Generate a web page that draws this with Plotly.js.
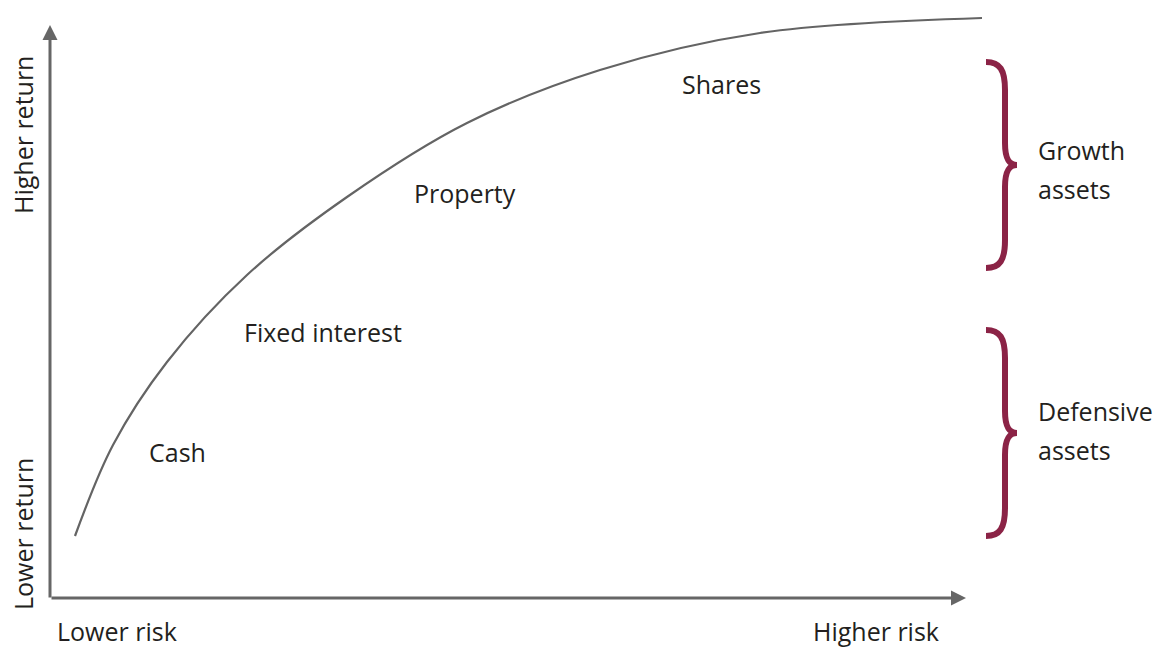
<!DOCTYPE html>
<html>
<head>
<meta charset="utf-8">
<script src="https://cdn.plot.ly/plotly-3.0.1.min.js"></script>
<style>html,body{margin:0;padding:0;background:#fff;}#chart{width:1164px;height:648px;}</style>
</head>
<body>
<div id="chart"></div>
<script>
// Risk/return curve (in the diagram's own units)
const curveRisk   = [75, 113, 167, 247, 347, 467, 600, 760, 982];
const curveReturn = [536, 445, 362, 275, 197, 123, 70, 33, 18];

// Asset class labels and their positions
const assetNames  = ["Cash", "Fixed interest", "Property", "Shares"];
const assetRisk   = [148, 243, 413, 681];
const assetReturn = [452, 332, 193, 84];

// Asset groups (braces)
const groupLine1  = ["Growth", "Defensive"];
const groupLine2  = ["assets", "assets"];
const groupLine1Y = [150, 411];
const groupLine2Y = [189, 450];
const groupCenter = [165, 433];
const groupHalf   = [103, 103];

// Axis labels
const axisLabels = {lowRisk: "Lower risk", highRisk: "Higher risk", lowReturn: "Lower return", highReturn: "Higher return"};

const textColor = "#231f20";
const axisColor = "#666666";
const braceColor = "#8b2346";
const fontFam = "Open Sans, Noto Sans, sans-serif";
const fsz = 25;

const traces = [{
  x: curveRisk, y: curveReturn, type: "scatter", mode: "lines",
  line: {color: "#646464", width: 2.2, shape: "spline", smoothing: 1},
  hoverinfo: "skip", showlegend: false
}];

const annotations = [];
// Axes with arrows
annotations.push({x: 966, y: 598, ax: 50, ay: 598, xref: "x", yref: "y", axref: "x", ayref: "y",
  showarrow: true, arrowhead: 2, arrowsize: 1, arrowwidth: 3, arrowcolor: axisColor, text: "", standoff: 0});
annotations.push({x: 50, y: 25, ax: 50, ay: 599, xref: "x", yref: "y", axref: "x", ayref: "y",
  showarrow: true, arrowhead: 2, arrowsize: 1, arrowwidth: 3, arrowcolor: axisColor, text: "", standoff: 0});

function txt(t, x, y, opts) {
  annotations.push(Object.assign({x: x, y: y, xref: "x", yref: "y", text: t, showarrow: false,
    borderpad: 0, font: {family: fontFam, size: fsz, color: textColor}}, opts || {}));
}
txt(axisLabels.lowRisk, 117, 631, {xanchor: "center", yanchor: "middle"});
txt(axisLabels.highRisk, 876, 631, {xanchor: "center", yanchor: "middle"});
txt(axisLabels.highReturn, 23, 135, {textangle: -90, xanchor: "center", yanchor: "middle"});
txt(axisLabels.lowReturn, 23, 534, {textangle: -90, xanchor: "center", yanchor: "middle"});
assetNames.forEach((n, i) => txt(n, assetRisk[i], assetReturn[i], {xanchor: "left", yanchor: "middle"}));
groupLine1.forEach((t, i) => {
  txt(t, 1037, groupLine1Y[i], {xanchor: "left", yanchor: "middle"});
  txt(groupLine2[i], 1037, groupLine2Y[i], {xanchor: "left", yanchor: "middle"});
});

// Brace shapes
const shapes = groupCenter.map((cy, i) => {
  const h = groupHalf[i];
  const p = `M 986,${cy - h} C 1000,${cy - h} 1005,${cy - h + 8} 1005,${cy - h + 28} ` +
            `L 1005,${cy - 22} C 1005,${cy - 6} 1009,${cy} 1017,${cy} ` +
            `C 1009,${cy} 1005,${cy + 6} 1005,${cy + 22} ` +
            `L 1005,${cy + h - 28} C 1005,${cy + h - 8} 1000,${cy + h} 986,${cy + h}`;
  return {type: "path", xref: "x", yref: "y", path: p, line: {color: braceColor, width: 6}};
});

const layout = {
  width: 1164, height: 648,
  margin: {l: 0, r: 0, t: 0, b: 0},
  paper_bgcolor: "#ffffff", plot_bgcolor: "#ffffff",
  xaxis: {range: [0, 1164], visible: false, fixedrange: true},
  yaxis: {range: [648, 0], visible: false, fixedrange: true},
  annotations: annotations,
  shapes: shapes,
  showlegend: false
};

Plotly.newPlot("chart", traces, layout, {displayModeBar: false, staticPlot: true});
</script>
</body>
</html>
